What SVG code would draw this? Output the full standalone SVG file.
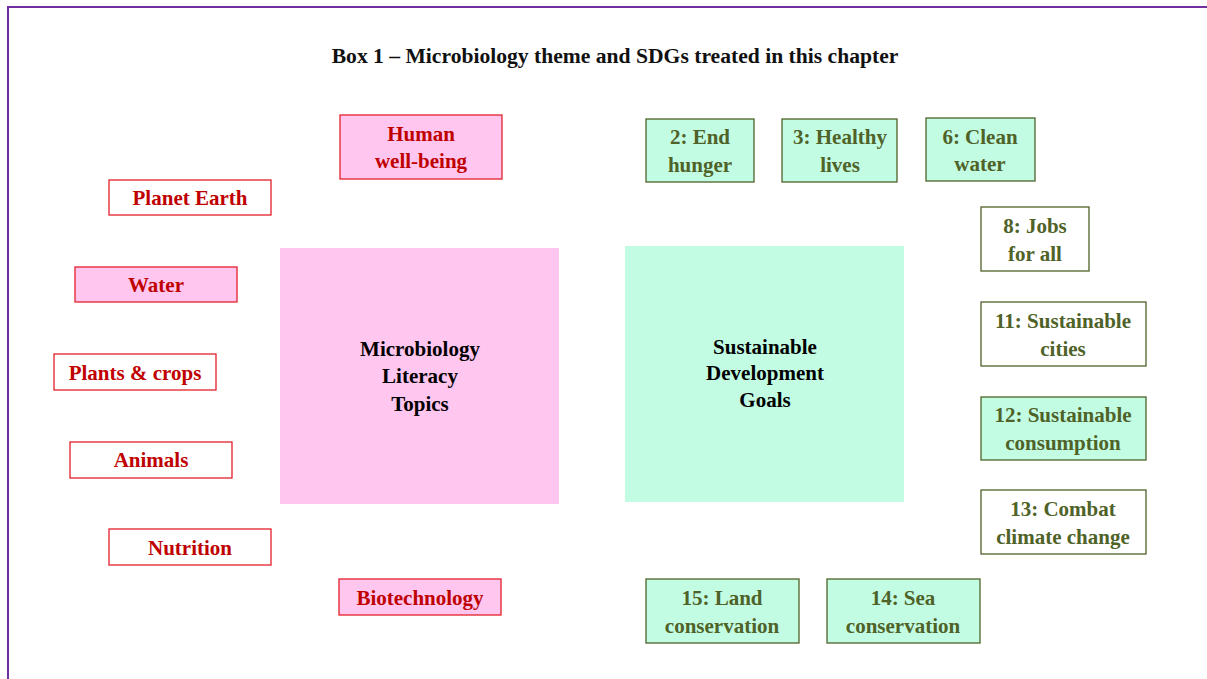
<svg xmlns="http://www.w3.org/2000/svg" width="1207" height="679" viewBox="0 0 1207 679">
<style>
text{font-family:"Liberation Serif","DejaVu Serif",serif;font-weight:bold;text-anchor:middle}
.t{font-size:21.6px;fill:#111}
.pk{fill:#ffc6ef;stroke:#e3202a;stroke-width:1.3}
.pw{fill:#fff;stroke:#e3202a;stroke-width:1.3}
.pt{font-size:21px;fill:#c00000}
.gk{fill:#c2fde3;stroke:#4f6228;stroke-width:1.3}
.gw{fill:#fff;stroke:#4f6228;stroke-width:1.3}
.gt{font-size:21px;fill:#4f6228}
.bt{font-size:21px;fill:#000}
</style>
<rect x="8" y="7" width="1220" height="700" fill="#fff" stroke="#7030a0" stroke-width="2"/>
<text class="t" x="615" y="63">Box 1 – Microbiology theme and SDGs treated in this chapter</text>
<g id="connectors"></g>
<g id="mlt"><rect x="280" y="248" width="279" height="256" fill="#ffc6ef"/>
<text class="bt" x="420" y="356">Microbiology</text><text class="bt" x="420" y="383">Literacy</text><text class="bt" x="420" y="411">Topics</text></g>
<g id="sdg"><rect x="625" y="246" width="279" height="256" fill="#c2fde3"/>
<text class="bt" x="765" y="354">Sustainable</text><text class="bt" x="765" y="380">Development</text><text class="bt" x="765" y="407">Goals</text></g>
<g id="human"><rect class="pk" x="340" y="115" width="162" height="64"/><text class="pt" x="421" y="141">Human</text><text class="pt" x="421" y="168">well-being</text></g>
<g id="planet"><rect class="pw" x="109" y="180" width="162" height="35"/><text class="pt" x="190" y="205">Planet Earth</text></g>
<g id="water"><rect class="pk" x="75" y="267" width="162" height="35"/><text class="pt" x="156" y="292">Water</text></g>
<g id="plants"><rect class="pw" x="54" y="354" width="162" height="36"/><text class="pt" x="135" y="380">Plants &amp; crops</text></g>
<g id="animals"><rect class="pw" x="70" y="442" width="162" height="36"/><text class="pt" x="151" y="467">Animals</text></g>
<g id="nutrition"><rect class="pw" x="109" y="529" width="162" height="36"/><text class="pt" x="190" y="555">Nutrition</text></g>
<g id="biotech"><rect class="pk" x="339" y="579" width="162" height="36"/><text class="pt" x="420" y="605">Biotechnology</text></g>
<g id="sdg2"><rect class="gk" x="646" y="119" width="108" height="63"/><text class="gt" x="700" y="144">2: End</text><text class="gt" x="700" y="172">hunger</text></g>
<g id="sdg3"><rect class="gk" x="782" y="119" width="115" height="63"/><text class="gt" x="840" y="144">3: Healthy</text><text class="gt" x="840" y="172">lives</text></g>
<g id="sdg6"><rect class="gk" x="926" y="118" width="109" height="63"/><text class="gt" x="980" y="144">6: Clean</text><text class="gt" x="980" y="171">water</text></g>
<g id="sdg8"><rect class="gw" x="981" y="207" width="108" height="64"/><text class="gt" x="1035" y="233">8: Jobs</text><text class="gt" x="1035" y="261">for all</text></g>
<g id="sdg11"><rect class="gw" x="981" y="302" width="165" height="64"/><text class="gt" x="1063" y="328">11: Sustainable</text><text class="gt" x="1063" y="356">cities</text></g>
<g id="sdg12"><rect class="gk" x="981" y="397" width="165" height="63"/><text class="gt" x="1063" y="422">12: Sustainable</text><text class="gt" x="1063" y="450">consumption</text></g>
<g id="sdg13"><rect class="gw" x="981" y="490" width="165" height="64"/><text class="gt" x="1063" y="516">13: Combat</text><text class="gt" x="1063" y="544">climate change</text></g>
<g id="sdg15"><rect class="gk" x="646" y="579" width="153" height="64"/><text class="gt" x="722" y="605">15: Land</text><text class="gt" x="722" y="633">conservation</text></g>
<g id="sdg14"><rect class="gk" x="827" y="579" width="153" height="64"/><text class="gt" x="903" y="605">14: Sea</text><text class="gt" x="903" y="633">conservation</text></g>
</svg>
